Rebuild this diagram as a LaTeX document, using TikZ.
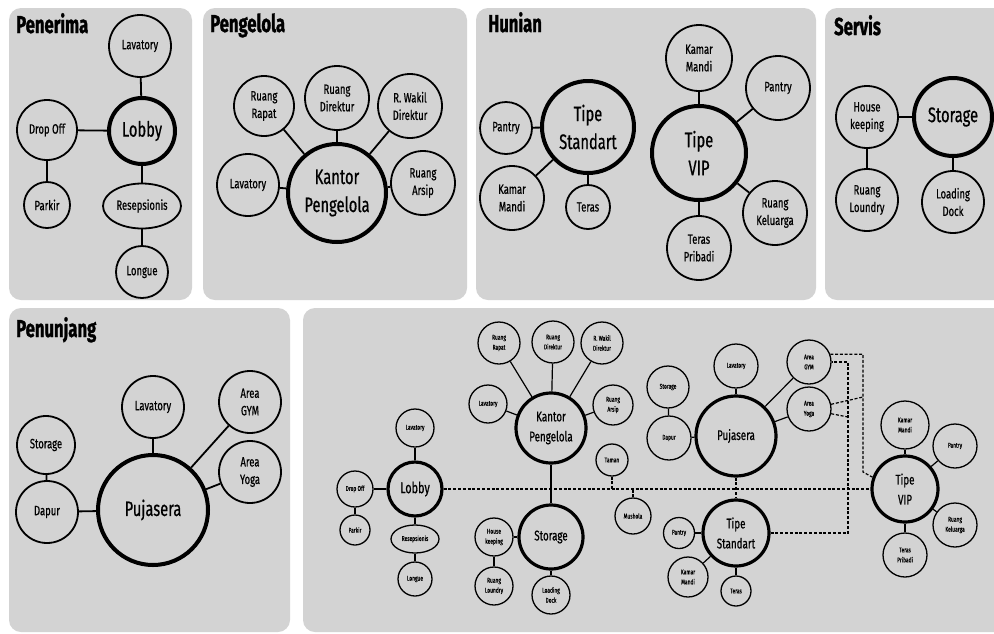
\documentclass[tikz,border=0pt]{standalone}
\usepackage{fontspec}
\usepackage{tikz}
\usetikzlibrary{shapes.geometric}
\newfontfamily\roomfont[FakeStretch=0.7, FakeBold=0.6]{Fira Sans}
\newfontfamily\titlefont[FakeStretch=0.68, FakeBold=1.2]{Fira Sans}
\definecolor{panelgray}{RGB}{211,211,211}

\tikzset{
  panel/.style={fill=panelgray, rounded corners=12pt},
  title/.style={anchor=base west, inner sep=0pt,
    font=\titlefont\bfseries\fontsize{24.5}{24.5}\selectfont},
  room/.style={circle, draw, line width=1.8pt, inner sep=0pt,
    minimum size=2*#1, align=center,
    font=\roomfont\fontsize{13.5}{17.5}\selectfont},
  hub/.style={room=#1, line width=4pt,
    font=\roomfont\fontsize{21}{28}\selectfont},
  desk/.style={ellipse, draw, line width=1.8pt, inner sep=0pt,
    minimum width=78, minimum height=45,
    font=\roomfont\fontsize{13.5}{17.5}\selectfont},
  sroom/.style={circle, draw, line width=1.3pt, inner sep=0pt,
    minimum size=2*#1, align=center,
    font=\roomfont\fontsize{7}{10}\selectfont},
  shub/.style={sroom=#1, line width=3.2pt,
    font=\roomfont\fontsize{14}{20}\selectfont},
  sdesk/.style={ellipse, draw, line width=1.3pt, inner sep=0pt,
    minimum width=48, minimum height=28,
    font=\roomfont\fontsize{7}{10}\selectfont},
  link/.style={line width=1.8pt},
  slink/.style={line width=1.2pt},
  dlink/.style={line width=1.2pt, dash pattern=on 3pt off 1.8pt}
}

\begin{document}
\begin{tikzpicture}[x=1pt, y=-1pt]
      \useasboundingbox (0, 0) rectangle (994, 633);
      \clip (0, 0) rectangle (994, 633);
      \fill[white] (0, 0) rectangle (994, 633);

      \fill[panel] (9, 8) rectangle (192, 300);
      \fill[panel] (203, 8) rectangle (467, 300);
      \fill[panel] (476, 8) rectangle (816, 300);
      \fill[panel] (825, 8) rectangle (1010, 300);
      \fill[panel] (9, 308) rectangle (290, 632);
      \fill[panel] (303, 308) rectangle (1010, 632);

      \node[title] (T1) at (16, 33) {Penerima};
      \node[title] (T2) at (210, 32) {Pengelola};
      \node[title] (T3) at (488, 32) {Hunian};
      \node[title] (T4) at (834, 35) {Servis};
      \node[title] (T5) at (16, 337) {Penunjang};

      % Penerima
      \node[room=31] (lav1) at (140, 46) {Lavatory};
      \node[hub=33] (lobby1) at (142, 131) {Lobby};
      \node[room=30] (drop1) at (47, 130) {Drop Off};
      \node[room=23] (park1) at (47, 205) {Parkir};
      \node[desk] (resep1) at (142, 206) {Resepsionis};
      \node[room=26] (longue1) at (142, 272) {Longue};
      \draw[link]
        (lobby1) edge (lav1)
        (lobby1) edge (drop1)
        (drop1) edge (park1)
        (lobby1) edge (resep1)
        (resep1) edge (longue1);

      % Pengelola
      \node[room=30] (rapat2) at (264, 106) {Ruang\\Rapat};
      \node[room=32] (dir2) at (337, 98) {Ruang\\Direktur};
      \node[room=32] (wakil2) at (410, 106) {R. Wakil\\Direktur};
      \node[room=31] (lav2) at (248, 185) {Lavatory};
      \node[hub=49] (kantor2) at (337, 193) {Kantor\\Pengelola};
      \node[room=32] (arsip2) at (423, 183) {Ruang\\Arsip};
      \draw[link]
        (kantor2) edge (rapat2)
        (kantor2) edge (dir2)
        (kantor2) edge (wakil2)
        (kantor2) edge (lav2)
        (kantor2) edge (arsip2);

      % Hunian
      \node[room=26] (pantry3) at (506, 128) {Pantry};
      \node[hub=46] (std3) at (588, 127) {Tipe\\Standart};
      \node[room=32] (kamar3) at (512, 198) {Kamar\\Mandi};
      \node[room=22] (teras3) at (588, 207) {Teras};
      \node[room=33] (kamarv3) at (699, 58) {Kamar\\Mandi};
      \node[room=32] (pantryv3) at (778, 88) {Pantry};
      \node[hub=47] (vip3) at (699, 153) {Tipe\\VIP};
      \node[room=32] (kel3) at (775, 213) {Ruang\\Keluarga};
      \node[room=32] (pribadi3) at (699, 248) {Teras\\Pribadi};
      \draw[link]
        (std3) edge (pantry3)
        (std3) edge (kamar3)
        (std3) edge (teras3)
        (vip3) edge (kamarv3)
        (vip3) edge (pantryv3)
        (vip3) edge (kel3)
        (vip3) edge (pribadi3);

      % Servis
      \node[room=31] (house4) at (867, 117) {House\\keeping};
      \node[hub=39] (store4) at (953, 117) {Storage};
      \node[room=31] (laundry4) at (867, 200) {Ruang\\Loundry};
      \node[room=31] (dock4) at (953, 202) {Loading\\Dock};
      \draw[link]
        (store4) edge (house4)
        (house4) edge (laundry4)
        (store4) edge (dock4);

      % Penunjang
      \node[room=31] (lav5) at (153, 407) {Lavatory};
      \node[room=31] (gym5) at (250, 402) {Area\\GYM};
      \node[room=31] (yoga5) at (250, 472) {Area\\Yoga};
      \node[room=29] (store5) at (46, 445) {Storage};
      \node[room=31] (dapur5) at (47, 512) {Dapur};
      \node[hub=55] (puja5) at (153, 510) {Pujasera};
      \draw[link]
        (puja5) edge (lav5)
        (puja5) edge (gym5)
        (puja5) edge (yoga5)
        (puja5) edge (dapur5)
        (dapur5) edge (store5);

      % gabungan
      \node[sroom=21] (rapat6) at (499, 343) {Ruang\\Rapat};
      \node[sroom=21] (dir6) at (553, 342) {Ruang\\Direktur};
      \node[sroom=21] (wakil6) at (602, 343) {R. Wakil\\Direktur};
      \node[sroom=19] (lav6) at (488, 404) {Lavatory};
      \node[sroom=20] (arsip6) at (613, 405) {Ruang\\Arsip};
      \node[shub=35] (kantor6) at (551, 428) {Kantor\\Pengelola};

      \node[sroom=19] (lav7) at (415, 428) {Lavatory};
      \node[shub=27, font=\roomfont\fontsize{15.5}{20}\selectfont]
        (lobby7) at (415, 489) {Lobby};
      \node[sroom=18] (drop7) at (355, 489) {Drop Off};
      \node[sroom=15] (park7) at (355, 530) {Parkir};
      \node[sdesk] (resep7) at (415, 539) {Resepsionis};
      \node[sroom=17] (longue7) at (415, 579) {Longue};

      \node[shub=32] (store8) at (551, 537) {Storage};
      \node[sroom=19] (house8) at (494, 537) {House\\keeping};
      \node[sroom=19] (laundry8) at (494, 586) {Ruang\\Loundry};
      \node[sroom=19] (dock8) at (551, 595) {Loading\\Dock};

      \node[sroom=16] (taman9) at (612, 460) {Taman};
      \node[sroom=18] (mushola9) at (633, 516) {Mushola};

      \node[sroom=22] (lav10) at (736, 366) {Lavatory};
      \node[sroom=21] (store10) at (668, 387) {Storage};
      \node[sroom=22] (dapur10) at (669, 438) {Dapur};
      \node[shub=40] (puja10) at (736, 436) {Pujasera};
      \node[sroom=22] (gym10) at (809, 362) {Area\\GYM};
      \node[sroom=22] (yoga10) at (809, 409) {Area\\Yoga};

      \node[shub=33] (std11) at (736, 533) {Tipe\\Standart};
      \node[sroom=15.5] (pantry11) at (679, 533) {Pantry};
      \node[sroom=20] (kamar11) at (688, 577) {Kamar\\Mandi};
      \node[sroom=15] (teras11) at (736, 591) {Teras};

      \node[shub=33] (vip12) at (905, 489) {Tipe\\VIP};
      \node[sroom=24] (kamar12) at (905, 425) {Kamar\\Mandi};
      \node[sroom=22] (pantry12) at (955, 446) {Pantry};
      \node[sroom=22] (kel12) at (955, 525) {Ruang\\Keluarga};
      \node[sroom=22] (pribadi12) at (905, 555) {Teras\\Pribadi};

      \draw[slink]
        (kantor6) edge (rapat6)
        (kantor6) edge (dir6)
        (kantor6) edge (wakil6)
        (kantor6) edge (lav6)
        (kantor6) edge (arsip6)
        (kantor6) edge (store8)
        (lobby7) edge (lav7)
        (lobby7) edge (drop7)
        (drop7) edge (park7)
        (lobby7) edge (resep7)
        (resep7) edge (longue7)
        (store8) edge (house8)
        (house8) edge (laundry8)
        (store8) edge (dock8)
        (puja10) edge (lav10)
        (puja10) edge (dapur10)
        (dapur10) edge (store10)
        (puja10) edge (gym10)
        (puja10) edge (yoga10)
        (std11) edge (pantry11)
        (std11) edge (kamar11)
        (std11) edge (teras11)
        (vip12) edge (kamar12)
        (vip12) edge (pantry12)
        (vip12) edge (kel12)
        (vip12) edge (pribadi12);

      \coordinate (jvip) at (863, 472);
      \coordinate (jstd) at (848, 362);
      \coordinate (jyoga) at (863, 397);
      \coordinate (jyoga2) at (848, 417);
      \draw[dlink]
        (lobby7) edge (vip12)
        (taman9) edge (taman9 |- lobby7)
        (mushola9) edge (mushola9 |- lobby7)
        (puja10) edge (std11)
        (yoga10.12) edge (jyoga)
        (yoga10.-12) edge (jyoga2);
      \draw[dlink] (gym10.20) -| (jvip) -- (vip12.160);
      \draw[dlink] (std11.east) -| (jstd) -- (gym10.east);
\end{tikzpicture}
\end{document}
